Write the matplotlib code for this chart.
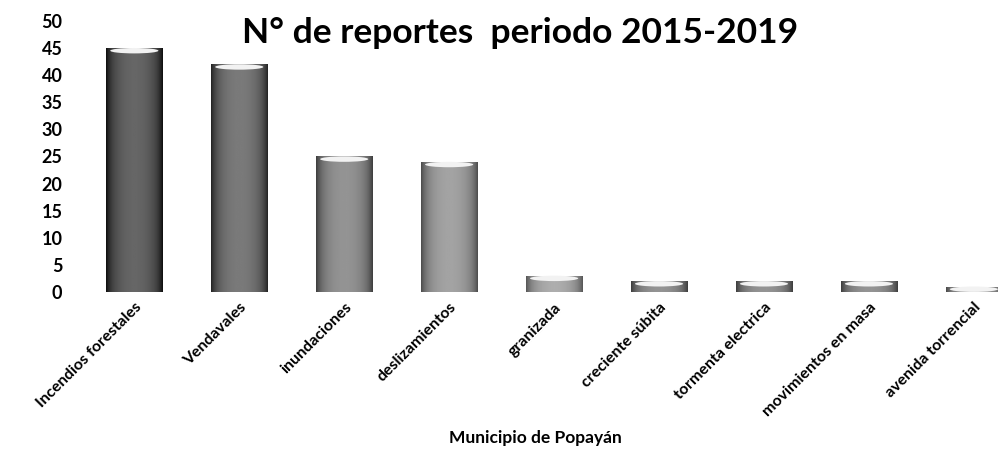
import numpy as np
import matplotlib.pyplot as plt
from matplotlib.patches import Ellipse

plt.rcParams['font.family'] = ['Lato', 'DejaVu Sans']
plt.rcParams['font.weight'] = 'bold'

# datos
categorias = ['Incendios forestales', 'Vendavales', 'inundaciones', 'deslizamientos',
              'granizada', 'creciente súbita', 'tormenta electrica',
              'movimientos en masa', 'avenida torrencial']
reportes = [45, 42, 25, 24, 3, 2, 2, 2, 1]
tonos = [0.22, 0.30, 0.40, 0.46, 0.50, 0.40, 0.40, 0.40, 0.45]  # gris de cada barra

fig = plt.figure(figsize=(9.98, 4.54), dpi=100)
ax = fig.add_axes([0.082, 0.357, 0.918, 0.597])

x = np.arange(len(categorias))
barras = ax.bar(x, reportes, width=0.54, color='none', edgecolor='none', zorder=2)

# efecto cilindro: degradado horizontal recortado a cada barra
perfil = np.linspace(-1, 1, 64)
for b, t in zip(barras, tonos):
    g = t + 0.18 * (1 - perfil**2) - 0.15 * np.abs(perfil)**6
    img = np.tile(g, (2, 1))
    x0, y0 = b.get_x(), b.get_y()
    im = ax.imshow(img, cmap='gray', vmin=0, vmax=1, aspect='auto',
                   extent=[x0, x0 + b.get_width(), y0, y0 + b.get_height()], zorder=2)
    im.set_clip_path(b)
    ax.add_patch(Ellipse((x0 + b.get_width() / 2, b.get_height() - 0.5), b.get_width() * 0.85, 1.0,
                         facecolor='#f2f2f2', edgecolor='none', zorder=3))

ax.set_xlim(-0.5, 8.23)
ax.set_ylim(0, 50)
ax.set_yticks(range(0, 51, 5))
ax.tick_params(axis='y', length=0, pad=14, labelsize=13)
ax.tick_params(axis='x', length=0, pad=6)
for lbl in ax.get_yticklabels():
    lbl.set_fontweight('bold')
ax.set_xticks(x)
ax.set_xticklabels(categorias, rotation=45, ha='right', rotation_mode='anchor',
                   fontsize=11.5, fontweight='bold')
for s in ax.spines.values():
    s.set_visible(False)

fig.text(0.521, 0.927, 'N° de reportes  periodo 2015-2019', ha='center', va='center',
         fontsize=25.5, fontweight='bold')
fig.text(0.536, 0.035, 'Municipio de Popayán', ha='center', va='center', fontsize=12.5, fontweight='bold')

fig.savefig('out.png', dpi=100)
